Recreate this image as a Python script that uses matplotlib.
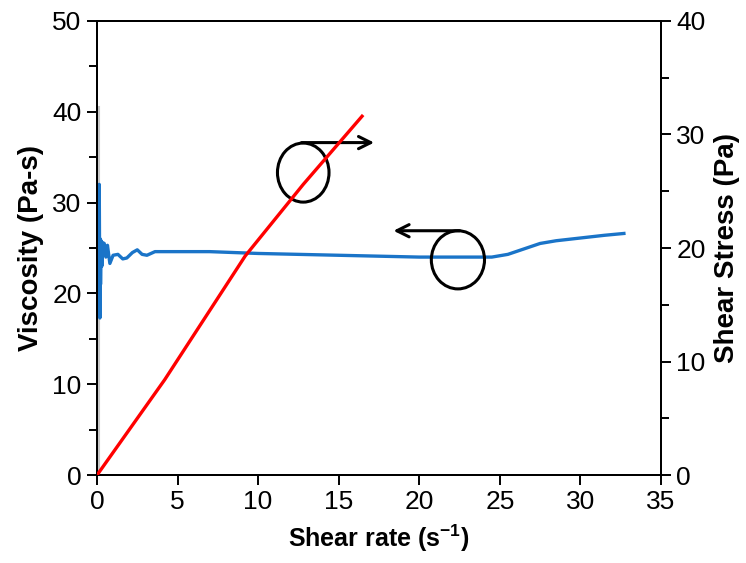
import matplotlib
matplotlib.use("Agg")
import matplotlib.pyplot as plt
from matplotlib.patches import Ellipse
from matplotlib.ticker import MultipleLocator

plt.rcParams['font.family'] = ['Liberation Sans', 'DejaVu Sans']
plt.rcParams['mathtext.fontset'] = 'custom'
plt.rcParams['mathtext.rm'] = 'Liberation Sans'
plt.rcParams['mathtext.bf'] = 'Liberation Sans:bold'

# Viscosity (left axis) vs shear rate
visc_rate = [0.10, 0.14, 0.18, 0.20, 0.22, 0.26, 0.30, 0.35, 0.45, 0.55, 0.65, 0.80,
             1.00, 1.30, 1.60, 1.85, 2.20, 2.50, 2.80, 3.10, 3.60, 4.10, 5.0, 7.0,
             10.0, 12.5, 15.0, 17.5, 20.0, 22.5, 24.5, 25.5, 26.5, 27.5, 28.5,
             30.0, 31.5, 32.7]
visc_vals = [24.0, 32.0, 17.3, 26.0, 21.0, 25.8, 23.0, 25.6, 25.5, 24.0, 25.3, 23.3,
             24.2, 24.3, 23.8, 23.9, 24.5, 24.8, 24.3, 24.2, 24.6, 24.6, 24.6, 24.6,
             24.4, 24.3, 24.2, 24.1, 24.0, 24.0, 24.0, 24.3, 24.9, 25.5, 25.8,
             26.1, 26.4, 26.6]

# Shear stress (right axis) vs shear rate
stress_rate = [0.0, 4.2, 9.2, 12.8, 16.45]
stress_vals = [0.0, 8.4, 19.3, 25.6, 31.6]

# Faint grey baseline traces
grey_x_v = [0.15, 0.15]
grey_y_v = [0.0, 40.5]
grey_x_h = [0.0, 33.0]
grey_y_h = [0.0, 0.0]

x_ticks = [0, 5, 10, 15, 20, 25, 30, 35]
left_ticks = [0, 10, 20, 30, 40, 50]
right_ticks = [0, 10, 20, 30, 40]

fig = plt.figure(figsize=(7.46, 5.63), dpi=100)
ax = fig.add_axes([0.130, 0.156, 0.756, 0.807])
ax2 = ax.twinx()

ax.plot(grey_x_v, grey_y_v, color='#c8c8c8', lw=1.5, zorder=1)
ax.plot(grey_x_h, grey_y_h, color='#c8c8c8', lw=2.0, zorder=1)
ax.plot(visc_rate, visc_vals, color='#1a74c8', lw=2.4, zorder=3)
ax2.plot(stress_rate, stress_vals, color='#ff0000', lw=2.4, zorder=3)

ax.set_xlim(0, 35)
ax.set_ylim(0, 50)
ax2.set_ylim(0, 40)
ax.set_xticks(x_ticks)
ax.set_yticks(left_ticks)
ax2.set_yticks(right_ticks)
ax.yaxis.set_minor_locator(MultipleLocator(5))
ax2.yaxis.set_minor_locator(MultipleLocator(5))

for a in (ax, ax2):
    a.tick_params(axis='both', which='major', direction='out', length=7, width=1.4,
                  labelsize=19, pad=4)
    a.tick_params(axis='both', which='minor', direction='out', length=6, width=1.4)
    for s in a.spines.values():
        s.set_linewidth(1.4)
ax.tick_params(axis='x', which='both', top=False)

ax.set_xlabel(r'Shear rate (s$^{\mathbf{-1}}$)', fontsize=18, fontweight='bold', labelpad=6)
ax.set_ylabel('Viscosity (Pa-s)', fontsize=20, fontweight='bold', labelpad=6)
ax2.set_ylabel('Shear Stress (Pa)', fontsize=20, fontweight='bold', labelpad=6)

# Annotation circles with arrows
ax.add_patch(Ellipse((12.8, 33.3), 3.2, 6.5, fill=False, ec='black', lw=2.2, zorder=4))
ax.annotate('', xy=(17.2, 36.6), xytext=(12.7, 36.6),
            arrowprops=dict(arrowstyle='->', color='black', lw=2.2,
                            mutation_scale=22, shrinkA=0, shrinkB=0), zorder=4)
ax.add_patch(Ellipse((22.4, 23.7), 3.3, 6.4, fill=False, ec='black', lw=2.2, zorder=4))
ax.annotate('', xy=(18.4, 26.9), xytext=(22.5, 26.9),
            arrowprops=dict(arrowstyle='->', color='black', lw=2.2,
                            mutation_scale=22, shrinkA=0, shrinkB=0), zorder=4)

fig.savefig('out.png', dpi=100)
